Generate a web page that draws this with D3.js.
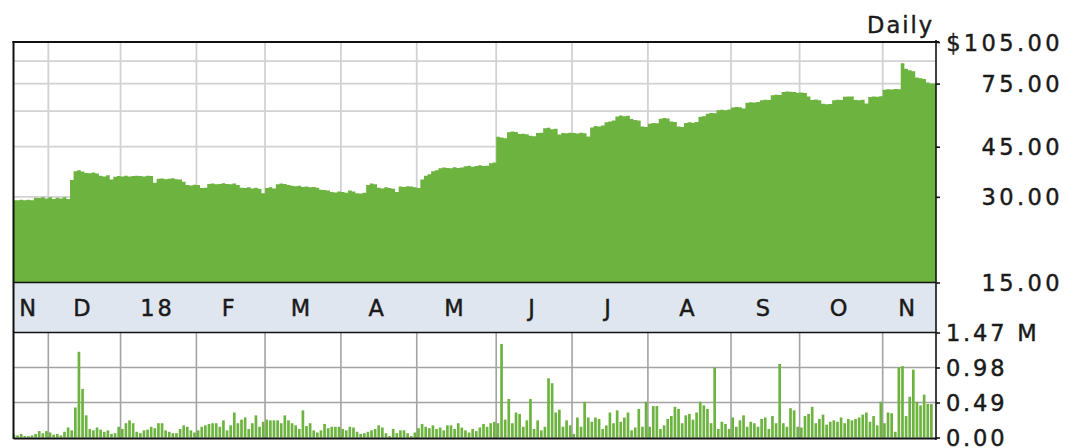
<!DOCTYPE html>
<html>
<head>
<meta charset="utf-8">
<script src="https://cdn.jsdelivr.net/npm/d3@7"></script>
<style>
  html, body { margin: 0; padding: 0; background: #fff; }
  svg { display: block; }
  text { font-family: "DejaVu Sans", Verdana, sans-serif; fill: #1a1a1a; stroke: #1a1a1a; stroke-width: 0.45px; }
</style>
</head>
<body>
<script>
// ---------- DATA ----------
// Daily closing prices (trading-day index 0 = mid Nov 2017)
const prices = [
  29.2, 29.2, 29.3, 29.2, 29.3, 29.2, 29.8, 29.7, 29.9, 29.6,
  29.9, 29.5, 29.8, 29.6, 29.9, 29.5, 34.4, 36.9, 37.2, 36.8,
  36.4, 36.3, 36.5, 36.2, 35.6, 35.4, 35.7, 34.5, 35.3, 35.5,
  35.4, 35.6, 35.4, 35.5, 35.6, 35.5, 35.4, 35.6, 35.5, 33.6,
  34.7, 34.8, 34.6, 34.7, 34.9, 34.6, 34.5, 33.9, 33.0, 32.9,
  33.1, 33.0, 32.2, 32.3, 33.3, 33.4, 33.2, 33.3, 33.5, 33.3,
  33.2, 33.4, 33.0, 32.3, 32.2, 32.4, 32.1, 32.3, 32.0, 30.9,
  32.2, 32.4, 32.1, 33.2, 33.4, 33.3, 33.0, 32.8, 32.7, 32.8,
  32.5, 32.6, 32.4, 32.5, 32.3, 31.8, 31.7, 31.6, 31.2, 31.1,
  31.3, 31.2, 31.0, 31.6, 31.3, 30.9, 30.8, 31.0, 33.0, 33.4,
  33.2, 32.3, 32.1, 32.4, 32.2, 32.0, 31.2, 32.6, 32.5, 32.7,
  32.6, 32.4, 32.2, 34.5, 35.6, 36.0, 36.9, 37.2, 37.8, 38.0,
  37.9, 37.8, 38.1, 37.9, 38.0, 38.4, 38.6, 38.3, 38.5, 38.7,
  38.5, 38.6, 39.4, 39.6, 48.8, 48.5, 48.2, 50.6, 50.9, 50.7,
  49.9, 50.0, 49.8, 49.2, 49.0, 50.3, 50.4, 52.3, 52.5, 51.8,
  52.0, 49.7, 50.3, 50.2, 50.4, 50.3, 50.1, 50.4, 50.2, 48.9,
  52.6, 53.2, 53.0, 53.4, 54.9, 55.2, 55.6, 57.5, 57.9, 57.6,
  57.8, 56.3, 55.9, 55.6, 53.0, 52.8, 54.2, 54.5, 54.4, 56.4,
  56.8, 56.5, 55.2, 55.0, 53.0, 52.8, 54.5, 54.8, 54.6, 55.0,
  57.3, 57.6, 58.8, 59.1, 59.0, 60.4, 60.7, 60.5, 60.8, 61.8,
  62.0, 61.9, 61.3, 64.2, 64.5, 64.3, 64.6, 65.6, 65.8, 65.7,
  68.2, 68.5, 68.4, 70.1, 70.3, 70.2, 70.0, 69.7, 69.8, 69.5,
  67.5, 65.7, 65.9, 65.6, 63.7, 63.4, 63.6, 65.6, 65.8, 65.7,
  67.4, 67.6, 67.5, 65.7, 65.5, 65.8, 63.9, 67.3, 67.6, 67.4,
  67.7, 71.4, 71.7, 71.5, 71.8, 71.6, 88.4, 84.5, 83.5, 82.8,
  78.8, 78.3, 77.9, 75.6, 75.0
];
// Daily volume in millions of shares
const volumes = [
  0.04, 0.03, 0.05, 0.02, 0.02, 0.03, 0.05, 0.09, 0.06, 0.09,
  0.07, 0.04, 0.05, 0.03, 0.08, 0.14, 0.10, 0.42, 1.20, 0.68,
  0.31, 0.12, 0.10, 0.14, 0.11, 0.08, 0.10, 0.05, 0.06, 0.15,
  0.12, 0.20, 0.24, 0.20, 0.08, 0.06, 0.10, 0.11, 0.15, 0.13,
  0.20, 0.20, 0.10, 0.08, 0.06, 0.06, 0.12, 0.17, 0.15, 0.10,
  0.07, 0.10, 0.15, 0.17, 0.19, 0.20, 0.20, 0.15, 0.24, 0.10,
  0.17, 0.35, 0.20, 0.25, 0.28, 0.12, 0.20, 0.31, 0.15, 0.22,
  0.25, 0.24, 0.24, 0.24, 0.20, 0.31, 0.24, 0.20, 0.17, 0.12,
  0.38, 0.16, 0.20, 0.10, 0.07, 0.10, 0.19, 0.13, 0.15, 0.15,
  0.15, 0.12, 0.10, 0.15, 0.14, 0.08, 0.05, 0.06, 0.08, 0.10,
  0.12, 0.17, 0.14, 0.06, 0.02, 0.12, 0.06, 0.10, 0.10, 0.06,
  0.02, 0.07, 0.13, 0.19, 0.15, 0.13, 0.17, 0.12, 0.14, 0.10,
  0.17, 0.17, 0.12, 0.20, 0.14, 0.10, 0.07, 0.12, 0.09, 0.14,
  0.19, 0.15, 0.20, 0.22, 0.20, 1.31, 0.25, 0.54, 0.20, 0.35,
  0.33, 0.15, 0.24, 0.54, 0.12, 0.24, 0.10, 0.15, 0.83, 0.76,
  0.35, 0.39, 0.15, 0.24, 0.17, 0.05, 0.28, 0.15, 0.50, 0.28,
  0.22, 0.28, 0.26, 0.12, 0.17, 0.35, 0.20, 0.38, 0.22, 0.28,
  0.35, 0.10, 0.14, 0.40, 0.15, 0.50, 0.15, 0.44, 0.44, 0.12,
  0.17, 0.26, 0.30, 0.43, 0.40, 0.20, 0.31, 0.33, 0.25, 0.35,
  0.50, 0.45, 0.40, 0.20, 0.98, 0.12, 0.22, 0.19, 0.12, 0.28,
  0.15, 0.24, 0.31, 0.15, 0.22, 0.20, 0.15, 0.26, 0.28, 0.12,
  0.30, 0.20, 1.03, 0.20, 0.15, 0.41, 0.38, 0.15, 0.14, 0.30,
  0.33, 0.43, 0.20, 0.26, 0.32, 0.18, 0.22, 0.24, 0.22, 0.28,
  0.20, 0.26, 0.24, 0.26, 0.28, 0.32, 0.35, 0.22, 0.30, 0.17,
  0.50, 0.20, 0.35, 0.34, 0.08, 0.98, 1.00, 0.30, 0.57, 0.95,
  0.50, 0.45, 0.60, 0.47, 0.47
];
// Month labels and the trading-day index where each month begins
const monthLabels = ["N", "D", "18", "F", "M", "A", "M", "J", "J", "A", "S", "O", "N"];
const monthStarts = [0, 10, 30, 51, 70, 91, 112, 134, 155, 176, 199, 218, 241];
// Axis ticks
const priceTicks = [15, 30, 45, 75, 105];
const priceGrid = [30, 45, 60, 75, 90];
const volTicks = [0, 0.49, 0.98, 1.47];
const volGrid = [0.49, 0.98];
const periodLabel = "Daily";

// ---------- LAYOUT ----------
const W = 1065, H = 448;
const L = 13.5, R = 936;
const pTop = 42, pBot = 282.5;
const bandBot = 332.5;
const vTop = 332.5, vBot = 438;
const N = prices.length;

const svg = d3.select("body").append("svg").attr("width", W).attr("height", H);

const x = d3.scaleLinear().domain([0, 255]).range([12.2, 12.2 + 3.612 * 255]);
const yP = d3.scaleLog().domain([15, 105]).range([pBot, pTop]);
const yV = d3.scaleLinear().domain([0, 1.47]).range([vBot - 0.5, vTop]);

svg.append("defs").append("clipPath").attr("id", "clipP")
  .append("rect").attr("x", L).attr("y", pTop).attr("width", R - L).attr("height", pBot - pTop);
svg.select("defs").append("clipPath").attr("id", "clipV")
  .append("rect").attr("x", L).attr("y", vTop).attr("width", R - L).attr("height", vBot - vTop);

// month band
svg.append("rect").attr("x", L).attr("y", pBot).attr("width", R - L).attr("height", bandBot - pBot)
  .attr("fill", "#e0e6f0");

// price grid
const gP = svg.append("g").attr("clip-path", "url(#clipP)");
gP.selectAll("line.h").data(priceGrid).join("line")
  .attr("x1", L).attr("x2", R).attr("y1", d => yP(d)).attr("y2", d => yP(d))
  .attr("stroke", "#d2d2d2").attr("stroke-width", 1.8);
gP.selectAll("line.v").data(monthStarts.slice(1)).join("line")
  .attr("x1", d => x(d)).attr("x2", d => x(d)).attr("y1", pTop).attr("y2", pBot)
  .attr("stroke", "#d2d2d2").attr("stroke-width", 1.8);

// price area
const pts = prices.map((p, i) => [x(i), p]);
pts.push([R + 2, prices[N - 1]]);
const area = d3.area()
  .x(d => d[0]).y0(pBot).y1(d => yP(d[1]))
  .curve(d3.curveStepAfter);
gP.append("path").datum(pts).attr("d", area).attr("fill", "#6cb33f");

// volume grid
const gV = svg.append("g").attr("clip-path", "url(#clipV)");
gV.selectAll("line.h").data(volGrid).join("line")
  .attr("x1", L).attr("x2", R).attr("y1", d => yV(d)).attr("y2", d => yV(d))
  .attr("stroke", "#a3a3a3").attr("stroke-width", 1.6);
gV.selectAll("line.v").data(monthStarts.slice(1)).join("line")
  .attr("x1", d => x(d)).attr("x2", d => x(d)).attr("y1", vTop).attr("y2", vBot)
  .attr("stroke", "#a3a3a3").attr("stroke-width", 1.6);

// volume bars
const bw = 3.612 * 0.74;
gV.selectAll("rect.bar").data(volumes).join("rect")
  .attr("x", (d, i) => x(i) + 0.4)
  .attr("width", bw)
  .attr("y", d => yV(d))
  .attr("height", d => yV(0) - yV(d))
  .attr("fill", "#6cb33f");

// borders
const border = svg.append("g").attr("stroke", "#111").attr("fill", "none");
border.append("line").attr("x1", L - 1).attr("x2", R + 3).attr("y1", pTop).attr("y2", pTop).attr("stroke-width", 2);
border.append("line").attr("x1", L).attr("x2", L).attr("y1", pTop - 1).attr("y2", vBot + 1).attr("stroke-width", 2);
border.append("line").attr("x1", L).attr("x2", R).attr("y1", pBot).attr("y2", pBot).attr("stroke-width", 1.6);
border.append("line").attr("x1", L).attr("x2", R).attr("y1", bandBot).attr("y2", bandBot).attr("stroke-width", 1.6);
border.append("line").attr("x1", L).attr("x2", R).attr("y1", vBot + 0.5).attr("y2", vBot + 0.5).attr("stroke-width", 2);

// right axes
const fmtP = d => d === 105 ? "$105.00" : d.toFixed(2);
const axP = svg.append("g").attr("transform", `translate(${R},0)`)
  .call(d3.axisRight(yP).tickValues(priceTicks).tickFormat(fmtP).tickSize(4).tickSizeOuter(0));
axP.select(".domain").attr("stroke", "#111").attr("stroke-width", 1.6).attr("d", `M0,${pTop - 2}V${vBot + 2}`);
axP.selectAll(".tick line").attr("stroke", "#111").attr("stroke-width", 1.6);
axP.selectAll(".tick text")
  .attr("x", 127).attr("text-anchor", "end").attr("dy", "0.36em")
  .style("font-size", "22.5px").style("letter-spacing", "3.4px")
  .attr("font-family", null);

const fmtV = d => d === 1.47 ? "1.47 M" : d.toFixed(2);
const axV = svg.append("g").attr("transform", `translate(${R},0)`)
  .call(d3.axisRight(yV).tickValues(volTicks).tickFormat(fmtV).tickSize(4).tickSizeOuter(0));
axV.select(".domain").remove();
axV.selectAll(".tick line").attr("stroke", "#111").attr("stroke-width", 1.6);
axV.selectAll(".tick text")
  .attr("x", 10).attr("text-anchor", "start").attr("dy", "0.36em")
  .style("font-size", "22.5px").style("letter-spacing", "2.8px")
  .attr("font-family", null);

// month labels
const monthEnds = monthStarts.slice(1).concat([255.6]);
svg.append("g").selectAll("text").data(monthLabels).join("text")
  .attr("x", (d, i) => (x(monthStarts[i]) + x(monthEnds[i])) / 2 - 1)
  .attr("y", (pBot + bandBot) / 2)
  .attr("dy", "0.36em")
  .attr("text-anchor", "middle")
  .style("font-size", "22.5px").style("letter-spacing", "3px")
  .text(d => d);

// period label
svg.append("text").attr("x", 934).attr("y", 32.5).attr("text-anchor", "end")
  .style("font-size", "22.5px").style("letter-spacing", "2px")
  .text(periodLabel);
</script>
</body>
</html>
